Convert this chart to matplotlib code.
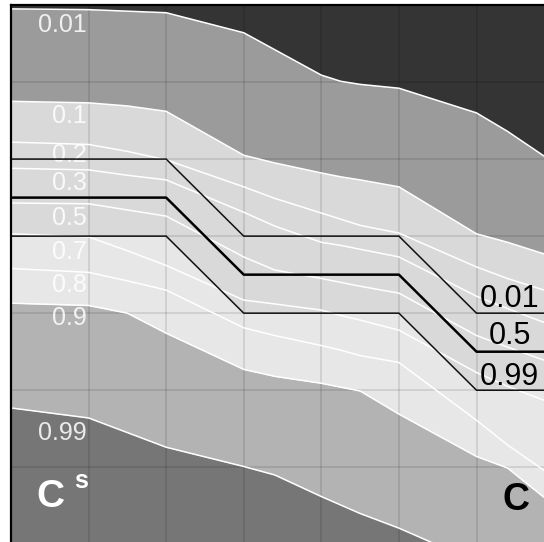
import numpy as np
import matplotlib
matplotlib.use("Agg")
import matplotlib.pyplot as plt

plt.rcParams["font.family"] = ["Liberation Sans", "DejaVu Sans"]

# shared x positions (grid units) for the C^s quantile curves
xs = [0, 1, 1.5, 2, 3, 3.4, 4, 4.25, 4.5, 5, 6, 6.4, 6.87]

# C^s quantile curves (y in grid units, measured downward from the top)
q001 = [0.05, 0.06, 0.08, 0.10, 0.36, 0.58, 0.91, 0.99, 1.03, 1.08, 1.40, 1.64, 1.96]
q010 = [1.25, 1.27, 1.31, 1.38, 1.95, 2.05, 2.18, 2.23, 2.27, 2.36, 2.97, 3.08, 3.23]
q020 = [1.78, 1.81, 1.90, 2.01, 2.36, 2.51, 2.70, 2.78, 2.86, 2.96, 3.40, 3.55, 3.70]
q030 = [2.12, 2.14, 2.21, 2.27, 2.69, 2.87, 3.08, 3.12, 3.17, 3.27, 3.78, 3.94, 4.12]
q050 = [2.57, 2.58, 2.66, 2.74, 3.27, 3.44, 3.55, 3.60, 3.65, 3.74, 4.29, 4.44, 4.61]
q070 = [2.97, 3.01, 3.19, 3.38, 3.83, 3.88, 3.96, 4.03, 4.09, 4.22, 4.77, 4.95, 5.13]
q080 = [3.42, 3.47, 3.58, 3.70, 4.19, 4.29, 4.42, 4.48, 4.55, 4.64, 5.39, 5.71, 6.04]
q090 = [3.87, 3.90, 4.00, 4.26, 4.73, 4.82, 4.91, 4.96, 5.01, 5.31, 5.86, 6.01, 6.39]
q099 = [5.23, 5.36, 5.55, 5.74, 5.99, 6.10, 6.38, 6.49, 6.60, 6.79, 7.23, 7.43, 7.66]

cs_curves = [q001, q010, q020, q030, q050, q070, q080, q090, q099]
cs_labels = ["0.01", "0.1", "0.2", "0.3", "0.5", "0.7", "0.8", "0.9", "0.99"]
cs_label_y = [0.26, 1.44, 1.95, 2.31, 2.77, 3.21, 3.64, 4.06, 5.56]

# C quantile step lines
cx = [0, 2, 3, 5, 6, 6.87]
c001 = [2.0, 2.0, 3.0, 3.0, 4.0, 4.0]
c050 = [2.5, 2.5, 3.5, 3.5, 4.5, 4.5]
c099 = [3.0, 3.0, 4.0, 4.0, 5.0, 5.0]
c_labels = ["0.01", "0.5", "0.99"]
c_label_y = [3.81, 4.30, 4.83]

fig = plt.figure(figsize=(5.44, 5.42), dpi=100)
ax = fig.add_axes([11 / 544, 0, 533 / 544, 537 / 542])
ax.set_xlim(0, 6.87)
ax.set_ylim(6.97, 0)

# grey bands
ax.fill_between(xs, -1, q001, color="#343434", lw=0, zorder=1)
ax.fill_between(xs, q001, q010, color="#9b9b9b", lw=0, zorder=1)
ax.fill_between(xs, q010, q090, color="#d9d9d9", lw=0, zorder=1)
ax.fill_between(xs, q090, q099, color="#b3b3b3", lw=0, zorder=1)
ax.fill_between(xs, q099, 9, color="#767676", lw=0, zorder=1)

# lighter part below the C 0.99 line
xf = np.linspace(0, 6.87, 600)
c99f = np.interp(xf, cx, c099)
q90f = np.interp(xf, xs, q090)
ax.fill_between(xf, c99f, q90f, where=c99f < q90f, color="#e7e7e7", lw=0,
                zorder=1, interpolate=True)

# grid
for g in range(1, 7):
    ax.axvline(g, color="black", alpha=0.13, lw=1.1, zorder=2)
    ax.axhline(g, color="black", alpha=0.13, lw=1.1, zorder=2)

# white labels under the curves
for lab, ly in zip(cs_labels, cs_label_y):
    ax.text(0.98, ly, lab, color="white", alpha=0.85, fontsize=18,
            ha="right", va="center", zorder=3)

for curve in cs_curves:
    ax.plot(xs, curve, color="white", lw=1.1, zorder=4)

ax.plot(cx, c001, color="#111111", lw=1.1, zorder=5)
ax.plot(cx, c050, color="black", lw=1.8, zorder=5)
ax.plot(cx, c099, color="#111111", lw=1.1, zorder=5)

for lab, ly in zip(c_labels, c_label_y):
    ax.text(6.43, ly, lab, color="black", fontsize=22, ha="center",
            va="center", zorder=6)

ax.text(0.33, 6.51, "C", color="white", fontsize=28, fontweight="bold",
        ha="left", va="baseline", zorder=6)
ax.text(0.81, 6.27, "s", color="white", fontsize=18, fontweight="bold",
        ha="left", va="baseline", zorder=6)
ax.text(6.33, 6.56, "C", color="black", fontsize=27, fontweight="bold",
        ha="left", va="baseline", zorder=6)

ax.set_xticks([])
ax.set_yticks([])
for side in ["right", "bottom"]:
    ax.spines[side].set_visible(False)
for side in ["left", "top"]:
    ax.spines[side].set_linewidth(1.6)
    ax.spines[side].set_zorder(7)

fig.savefig("out.png", dpi=100)
